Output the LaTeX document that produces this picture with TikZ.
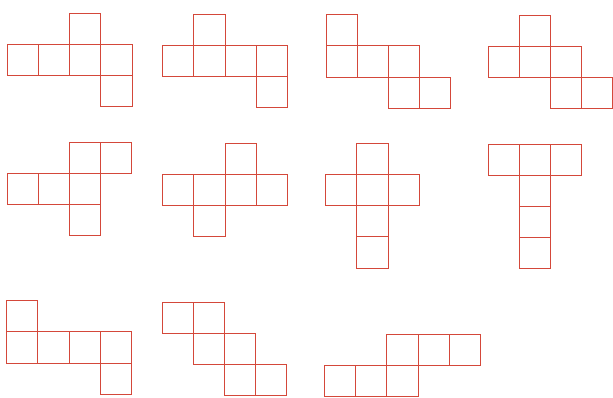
\documentclass[tikz,border=0pt]{standalone}
\definecolor{netred}{RGB}{212,72,58}
\tikzset{netline/.style={draw=netred, line width=0.9pt, line join=miter}}
\newcommand\drawnet[4]{%
  \foreach \c/\r in {#4} {\draw[netline] ({#1+\c*#3},{#2+\r*#3}) rectangle ++(#3,#3);}}
\begin{document}
\begin{tikzpicture}[x=1pt,y=-1pt]
\useasboundingbox (0,0) rectangle (613,398);
% row 1
\drawnet{7.3}{13.3}{31.2}{2/0,0/1,1/1,2/1,3/1,3/2}
\drawnet{162.7}{14.3}{31.2}{1/0,0/1,1/1,2/1,3/1,3/2}
\drawnet{326}{14.7}{31.2}{0/0,0/1,1/1,2/1,2/2,3/2}
\drawnet{488.3}{15}{31.1}{1/0,0/1,1/1,2/1,2/2,3/2}
% row 2
\drawnet{7.3}{142.3}{31.1}{2/0,3/0,0/1,1/1,2/1,2/2}
\drawnet{162.7}{143.3}{31.2}{2/0,0/1,1/1,2/1,3/1,1/2}
\drawnet{325.7}{143.3}{31.2}{1/0,0/1,1/1,2/1,1/2,1/3}
\drawnet{488.3}{144}{31}{0/0,1/0,2/0,1/1,1/2,1/3}
% row 3
\drawnet{6.7}{300.7}{31.2}{0/0,0/1,1/1,2/1,3/1,3/2}
\drawnet{162}{302.3}{31.2}{0/0,1/0,1/1,2/1,2/2,3/2}
\drawnet{324.7}{334.3}{31.1}{2/0,3/0,4/0,0/1,1/1,2/1}
\end{tikzpicture}
\end{document}
